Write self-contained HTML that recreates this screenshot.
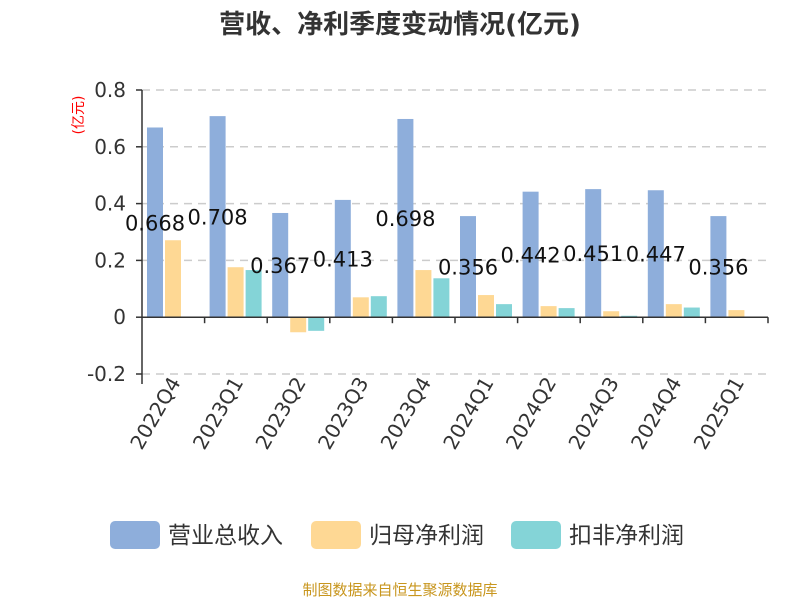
<!DOCTYPE html>
<html><head><meta charset="utf-8"><style>
body{margin:0;background:#fff;}
svg text{font-family:"DejaVu Sans","Noto Sans CJK SC",sans-serif;}
</style></head><body>
<svg id="c" width="800" height="600" xmlns="http://www.w3.org/2000/svg">
<text x="400" y="33" text-anchor="middle" font-size="26" font-weight="bold" fill="#333">营收、净利季度变动情况(亿元)</text>
<text transform="translate(83,115) rotate(-90)" text-anchor="middle" font-size="14" fill="#ff0000">(亿元)</text>
<g id="grid"></g><g id="bars"></g><g id="axes"></g><g id="labels"></g>
<g>
<rect x="110" y="521" width="50" height="28" rx="5" fill="#8eaedb"/>
<text x="168" y="543" font-size="23" fill="#333">营业总收入</text>
<rect x="311" y="521" width="50" height="28" rx="5" fill="#fed894"/>
<text x="369" y="543" font-size="23" fill="#333">归母净利润</text>
<rect x="511" y="521" width="50" height="28" rx="5" fill="#84d4d7"/>
<text x="569" y="543" font-size="23" fill="#333">扣非净利润</text>
</g>
<text x="400" y="595" text-anchor="middle" font-size="15" fill="#c8961e">制图数据来自恒生聚源数据库</text>
</svg>
<script>
const categories=["2022Q4","2023Q1","2023Q2","2023Q3","2023Q4","2024Q1","2024Q2","2024Q3","2024Q4","2025Q1"];
const revenue=[0.668,0.708,0.367,0.413,0.698,0.356,0.442,0.451,0.447,0.356];
const netProfit=[0.271,0.176,-0.053,0.07,0.166,0.078,0.039,0.021,0.046,0.025];
const deductedProfit=[null,0.166,-0.048,0.074,0.137,0.046,0.032,0.005,0.034,null];
const yTicks=[-0.2,0,0.2,0.4,0.6,0.8];
const NS="http://www.w3.org/2000/svg";
const x0=142,x1=768,yMin=-0.2,yMax=0.8,py0=374,py1=90;
const y=v=>py0-(v-yMin)/(yMax-yMin)*(py0-py1);
const bw=(x1-x0)/categories.length;
function mk(t,a,p){const e=document.createElementNS(NS,t);for(const k in a)e.setAttribute(k,a[k]);document.getElementById(p).appendChild(e);return e;}
yTicks.forEach(t=>{
 if(t!==0){const l=mk('line',{x1:x0,x2:x1,y1:y(t),y2:y(t),stroke:'#ccc','stroke-dasharray':'8,6','stroke-width':1.5},'grid');
 
 }
 const tk=mk('line',{x1:x0-6,x2:x0,y1:y(t),y2:y(t),stroke:'#333','stroke-width':1.5},'axes');
 
 
 const tx=mk('text',{x:x0-16,y:y(t)+7,'text-anchor':'end','font-size':20,fill:'#333'},'axes');
 tx.textContent=t===0?'0':t.toFixed(1);
 
 
});
const ya=mk('line',{x1:x0,x2:x0,y1:py1,y2:py0+10,stroke:'#333','stroke-width':1.5},'axes');


const xa=mk('line',{x1:x0,x2:x1,y1:y(0),y2:y(0),stroke:'#333','stroke-width':1.5},'axes');


const series=[[revenue,'#8eaedb','bar-revenue'],[netProfit,'#fed894','bar-net-profit'],[deductedProfit,'#84d4d7','bar-deducted-profit']];
categories.forEach((c,i)=>{
 const cx=x0+bw*i;
 const tk=mk('line',{x1:cx+bw,x2:cx+bw,y1:y(0),y2:y(0)+6,stroke:'#333','stroke-width':1.5},'axes');
 
 
 series.forEach((s,j)=>{
  const v=s[0][i]; if(v===null)return;
  const r=mk('rect',{x:cx+5+j*18,width:16,y:Math.min(y(v),y(0)),height:Math.abs(y(v)-y(0)),fill:s[1]},'bars');
  
  
 });
 const lb=mk('text',{x:cx+13,y:y(revenue[i]/2)+8,'text-anchor':'middle','font-size':21,fill:'#111'},'labels');
 lb.textContent=revenue[i].toFixed(3);
 
 
 const xl=mk('text',{transform:`translate(${cx+bw/2+8},${y(0)+65}) rotate(-60)`,'text-anchor':'end','font-size':20,fill:'#333'},'axes');
 xl.textContent=c;
 
 
});
</script>
</body></html>
